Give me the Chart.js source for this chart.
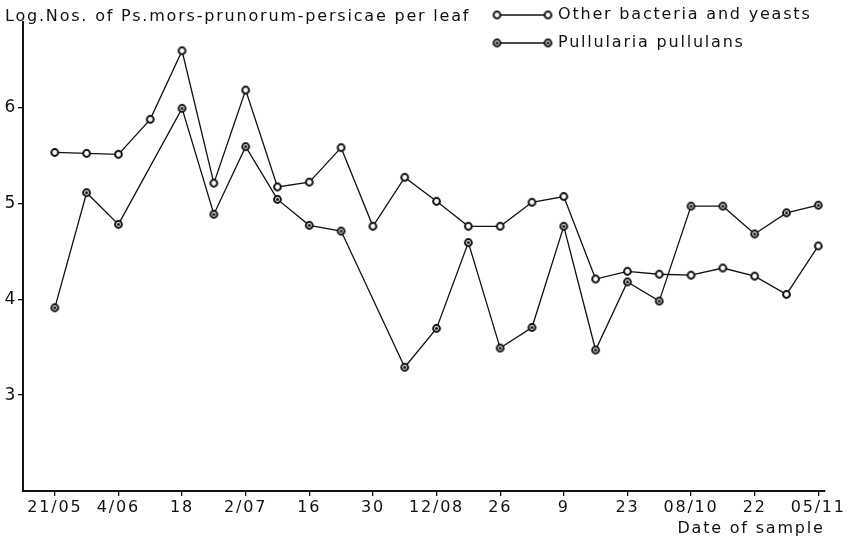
<!DOCTYPE html>
<html>
<head>
<meta charset="utf-8">
<script src="https://cdn.jsdelivr.net/npm/chart.js@4.4.1/dist/chart.umd.min.js"></script>
<style>
  html, body { margin: 0; padding: 0; background: #fff; }
  #wrap { width: 848px; height: 542px; position: relative; }
</style>
</head>
<body>
<div id="wrap"><canvas id="chart"></canvas></div>
<script>
// Weekly sampling dates; only every second sample carries a label
const dateLabels = ["21/05", "4/06", "18", "2/07", "16", "30", "12/08", "26", "9", "23", "08/10", "22", "05/11"];
const yTickValues = [3, 4, 5, 6];

// log numbers of Ps. mors-prunorum-persicae per leaf, one value per weekly sample
const otherBacteria = [5.53, 5.52, 5.51, 5.875, 6.59, 5.21, 6.18, 5.17, 5.22, 5.58, 4.76, 5.27, 5.02,
                       4.76, 4.76, 5.01, 5.07, 4.21, 4.29, 4.26, 4.25, 4.325, 4.24, 4.05, 4.555];
const pullularia = [3.91, 5.11, 4.78, null, 5.99, 4.885, 5.59, 5.04, 4.77, 4.71, null, 3.29, 3.695,
                    4.59, 3.49, 3.705, 4.76, 3.47, 4.18, 3.98, 4.97, 4.97, 4.68, 4.90, 4.98];

const FONT = '"DejaVu Sans", sans-serif';
const INK = '#111';
const SPACING = '1.8px';

// small drawn markers: open ring, and ring with a dark centre
function makeMarker(withDot) {
  const c = document.createElement('canvas');
  c.width = 11; c.height = 11;
  const g = c.getContext('2d');
  g.beginPath();
  g.arc(5.5, 5.5, 3.4, 0, Math.PI * 2);
  g.fillStyle = '#fff';
  g.fill();
  g.lineWidth = 2;
  g.strokeStyle = INK;
  g.stroke();
  if (withDot) {
    g.beginPath();
    g.arc(5.5, 5.5, 1.5, 0, Math.PI * 2);
    g.fillStyle = INK;
    g.fill();
  }
  return c;
}
const ringMarker = makeMarker(false);
const dotMarker = makeMarker(true);

const toPoints = arr => arr.map((y, i) => ({ x: i, y }));

// wide-set lettering for every text drawn on the canvas
const wideLettering = {
  id: 'wideLettering',
  beforeLayout(chart) { chart.ctx.letterSpacing = SPACING; },
  beforeDraw(chart) { chart.ctx.letterSpacing = SPACING; }
};

// heading at top-left and the hand-drawn style key at top-right
const headingAndKey = {
  id: 'headingAndKey',
  afterDraw(chart) {
    const ctx = chart.ctx;
    ctx.save();
    ctx.letterSpacing = SPACING;
    ctx.fillStyle = INK;
    ctx.font = '16px ' + FONT;
    ctx.textBaseline = 'middle';
    ctx.textAlign = 'left';
    ctx.fillText('Log.Nos. of Ps.mors-prunorum-persicae per leaf', 5, 17);

    const rows = [
      { y: 15, marker: ringMarker, text: chart.data.datasets[0].label },
      { y: 43, marker: dotMarker, text: chart.data.datasets[1].label }
    ];
    rows.forEach(r => {
      ctx.beginPath();
      ctx.moveTo(497, r.y);
      ctx.lineTo(548, r.y);
      ctx.lineWidth = 1.3;
      ctx.strokeStyle = INK;
      ctx.stroke();
      ctx.drawImage(r.marker, 497 - 5.5, r.y - 5.5);
      ctx.drawImage(r.marker, 548 - 5.5, r.y - 5.5);
      ctx.fillText(r.text, 558, r.y);
    });
    ctx.restore();
  }
};

new Chart(document.getElementById('chart'), {
  type: 'line',
  data: {
    datasets: [
      {
        label: 'Other bacteria and yeasts',
        data: toPoints(otherBacteria),
        borderColor: INK,
        borderWidth: 1.3,
        pointStyle: ringMarker,
        pointRadius: 4,
        tension: 0,
        spanGaps: true
      },
      {
        label: 'Pullularia pullulans',
        data: toPoints(pullularia),
        borderColor: INK,
        borderWidth: 1.3,
        pointStyle: dotMarker,
        pointRadius: 4,
        tension: 0,
        spanGaps: true
      }
    ]
  },
  options: {
    responsive: true,
    maintainAspectRatio: false,
    animation: false,
    layout: { padding: { top: 22, right: 23, left: 0, bottom: 0 } },
    plugins: {
      legend: { display: false },
      tooltip: { enabled: false }
    },
    scales: {
      x: {
        type: 'linear',
        min: -1,
        max: 24.2,
        afterBuildTicks: s => { s.ticks = dateLabels.map((_, k) => ({ value: 2 * k })); },
        afterFit: s => { s.height = 51; },
        ticks: {
          autoSkip: false,
          maxRotation: 0,
          color: INK,
          font: { family: FONT, size: 16 },
          padding: 2,
          callback: v => dateLabels[v / 2] ?? ''
        },
        grid: { display: true, drawOnChartArea: false, drawTicks: true, tickLength: 5, color: INK, lineWidth: 1.3 },
        border: { display: true, color: INK, width: 2 },
        title: {
          display: true,
          text: 'Date of sample',
          align: 'end',
          color: INK,
          font: { family: FONT, size: 16 },
          padding: { top: 0, bottom: 4 }
        }
      },
      y: {
        min: 2,
        max: 6.89,
        afterBuildTicks: s => { s.ticks = yTickValues.map(v => ({ value: v })); },
        afterFit: s => { s.width = 23; },
        ticks: {
          color: INK,
          font: { family: FONT, size: 17 },
          padding: 1
        },
        grid: { display: true, drawOnChartArea: false, drawTicks: true, tickLength: 5, color: INK, lineWidth: 1.3 },
        border: { display: true, color: INK, width: 2 }
      }
    }
  },
  plugins: [wideLettering, headingAndKey]
});
</script>
</body>
</html>
